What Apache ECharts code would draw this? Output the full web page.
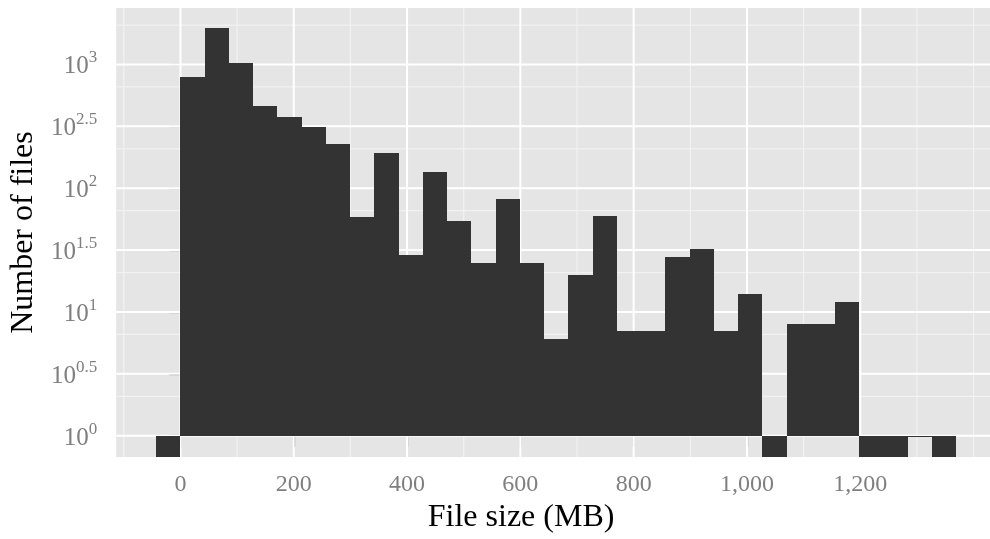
<!DOCTYPE html>
<html>
<head>
<meta charset="utf-8">
<script src="https://cdn.jsdelivr.net/npm/echarts@6/dist/echarts.min.js"></script>
<style>
  html, body { margin: 0; padding: 0; background: #fff; }
  #chartHist { width: 990px; height: 539px; }
</style>
</head>
<body>
<div id="chartHist"></div>
<script>
  // histogram of file sizes, counts
  var binWidth = 42.8;
  var firstBinStart = -42.8;
  var fileCounts = [0, 787, 1977, 1019, 461, 377, 315, 226, 58, 191, 29, 134, 54, 25, 82, 25,
                    6, 20, 60, 7, 7, 28, 32, 7, 14, 0, 8, 8, 12, 0, 0, 1, 0];
  var xTickValues = [0, 200, 400, 600, 800, 1000, 1200];
  var xMinorValues = [-100, 100, 300, 500, 700, 900, 1100, 1300, 1400];
  var yTickExponents = [0, 0.5, 1, 1.5, 2, 2.5, 3];

  var xMin = -113.5, xMax = 1429;
  var yMin = -0.173, yMax = 3.456;
  var serif = 'Liberation Serif';
  var grey = '#7f7f7f';

  // minor breaks sit halfway (in counts) between the major ones
  var yMinorValues = [];
  for (var i = 0; i < yTickExponents.length; i++) {
    var a = Math.pow(10, yTickExponents[i]), b = Math.pow(10, yTickExponents[i] + 0.5);
    yMinorValues.push(Math.log10((a + b) / 2));
  }

  var bins = fileCounts.map(function (n, i) {
    return [firstBinStart + i * binWidth, firstBinStart + (i + 1) * binWidth, n];
  });

  function vLine(color, width) {
    return function (params, api) {
      var p = api.coord([api.value(0), 0]);
      var cs = params.coordSys;
      return {
        type: 'line',
        shape: { x1: p[0], y1: cs.y, x2: p[0], y2: cs.y + cs.height },
        style: { stroke: color, lineWidth: width }
      };
    };
  }
  function hLine(color, width) {
    return function (params, api) {
      var p = api.coord([0, api.value(0)]);
      var cs = params.coordSys;
      return {
        type: 'line',
        shape: { x1: cs.x, y1: p[1], x2: cs.x + cs.width, y2: p[1] },
        style: { stroke: color, lineWidth: width }
      };
    };
  }

  var chart = echarts.init(document.getElementById('chartHist'));
  chart.setOption({
    animation: false,
    grid: {
      left: 110, right: 0, top: 8, bottom: 77,
      show: true, backgroundColor: '#e5e5e5', borderWidth: 0
    },
    xAxis: {
      type: 'value',
      min: xMin, max: xMax,
      name: 'File size (MB)',
      nameLocation: 'middle',
      nameGap: 38,
      nameTextStyle: { fontFamily: serif, fontSize: 32, color: '#000', padding: [0, 64, 0, 0] },
      axisLine: { show: false },
      splitLine: { show: false },
      axisTick: { show: true, length: 11, customValues: xTickValues, lineStyle: { color: grey, width: 1.3 } },
      axisLabel: {
        customValues: xTickValues,
        margin: 16,
        fontFamily: serif, fontSize: 24, color: grey,
        formatter: function (v) { return v.toLocaleString('en-US'); }
      }
    },
    yAxis: {
      type: 'value',
      min: yMin, max: yMax,
      name: 'Number of files',
      nameLocation: 'middle',
      nameRotate: 90,
      nameGap: 74,
      nameTextStyle: { fontFamily: serif, fontSize: 32, color: '#000' },
      axisLine: { show: false },
      splitLine: { show: false },
      axisTick: { show: true, length: 11, customValues: yTickExponents, lineStyle: { color: grey, width: 1.3 } },
      axisLabel: {
        customValues: yTickExponents,
        margin: 19,
        formatter: function (v) { return '{b|10}{s|' + v + '}'; },
        rich: {
          b: { fontFamily: serif, fontSize: 25, color: grey, lineHeight: 30, verticalAlign: 'bottom' },
          s: { fontFamily: serif, fontSize: 17, color: grey, lineHeight: 30, verticalAlign: 'top' }
        }
      }
    },
    series: [
      {
        type: 'custom', name: 'minorX', z: 1, silent: true,
        data: xMinorValues.map(function (v) { return [v]; }),
        encode: { x: 0 },
        renderItem: vLine('#f2f2f2', 1.2)
      },
      {
        type: 'custom', name: 'minorY', z: 1, silent: true,
        data: yMinorValues.map(function (v) { return [v]; }),
        encode: { y: 0 },
        renderItem: hLine('#f2f2f2', 1.2)
      },
      {
        type: 'custom', name: 'majorX', z: 2, silent: true,
        data: xTickValues.map(function (v) { return [v]; }),
        encode: { x: 0 },
        renderItem: vLine('#ffffff', 2)
      },
      {
        type: 'custom', name: 'majorY', z: 2, silent: true,
        data: yTickExponents.map(function (v) { return [v]; }),
        encode: { y: 0 },
        renderItem: hLine('#ffffff', 2)
      },
      {
        type: 'custom', name: 'files', z: 3,
        data: bins,
        encode: { x: [0, 1], y: 2 },
        renderItem: function (params, api) {
          var n = api.value(2);
          var top = n > 0 ? Math.log10(n) : yMin;
          var p0 = api.coord([api.value(0), 0]);
          var p1 = api.coord([api.value(1), top]);
          var x0 = Math.round(p0[0]), x1 = Math.round(p1[0]);
          var yb = Math.round(p0[1]), yt = Math.round(p1[1]);
          var h = Math.abs(yb - yt);
          if (h < 1) h = 1;
          return {
            type: 'rect',
            shape: { x: x0, y: Math.min(yb, yt), width: x1 - x0, height: h },
            style: { fill: '#333333' }
          };
        }
      }
    ]
  });
</script>
</body>
</html>
